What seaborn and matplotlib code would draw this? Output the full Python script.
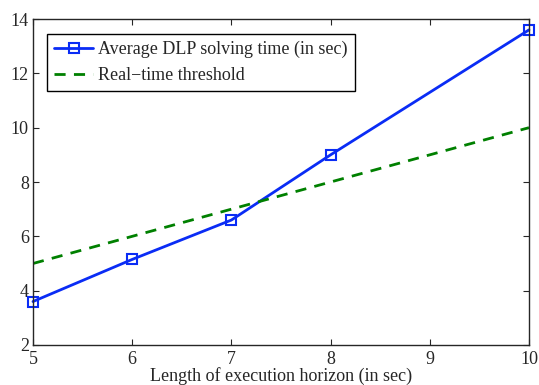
import numpy as np
import pandas as pd
import matplotlib
matplotlib.use("Agg")
import matplotlib.pyplot as plt
import seaborn as sns

# data
horizon = [5, 6, 7, 8, 10]
solve_time = [3.6, 5.15, 6.6, 9.0, 13.6]
threshold_x = [5, 10]
threshold_y = [5, 10]

sns.set_style("ticks")
plt.rcParams['font.family'] = ['Liberation Serif', 'DejaVu Serif']
plt.rcParams['xtick.direction'] = 'in'
plt.rcParams['ytick.direction'] = 'in'
plt.rcParams['xtick.top'] = True
plt.rcParams['ytick.right'] = True

df = pd.DataFrame({"x": horizon, "y": solve_time})
df_thr = pd.DataFrame({"x": threshold_x, "y": threshold_y})

fig = plt.figure(figsize=(5.39, 3.85), dpi=100)
ax = fig.add_axes([0.0612, 0.1039, 0.9202, 0.8467])

sns.lineplot(data=df, x="x", y="y", ax=ax, color="#0a2cf5", lw=2,
             marker="s", markersize=7, markerfacecolor="none",
             markeredgecolor="#0a2cf5", markeredgewidth=1.5, clip_on=False,
             label="Average DLP solving time (in sec)")
sns.lineplot(data=df_thr, x="x", y="y", ax=ax, color="#008000", lw=2,
             linestyle=(0, (4, 3)), label="Real\u2212time threshold")

ax.set_xlim(5, 10)
ax.set_ylim(2, 14)
ax.set_xticks([5, 6, 7, 8, 9, 10])
ax.set_yticks([2, 4, 6, 8, 10, 12, 14])
ax.tick_params(labelsize=13, length=4, width=0.8, pad=3)
ax.tick_params(axis="x", pad=4)
for s in ax.spines.values():
    s.set_linewidth(1.0)
    s.set_visible(True)

ax.set_xlabel("Length of execution horizon (in sec)", fontsize=13, labelpad=0)
ax.set_ylabel("")

leg = ax.legend(loc="upper left", fontsize=13, frameon=True, fancybox=False,
                edgecolor="black", framealpha=1, borderpad=0.4,
                handlelength=2.15, handletextpad=0.3, borderaxespad=0,
                bbox_to_anchor=(0.028, 0.955), labelspacing=0.5)
leg.get_frame().set_linewidth(1.0)

fig.savefig("out.png", dpi=100)
